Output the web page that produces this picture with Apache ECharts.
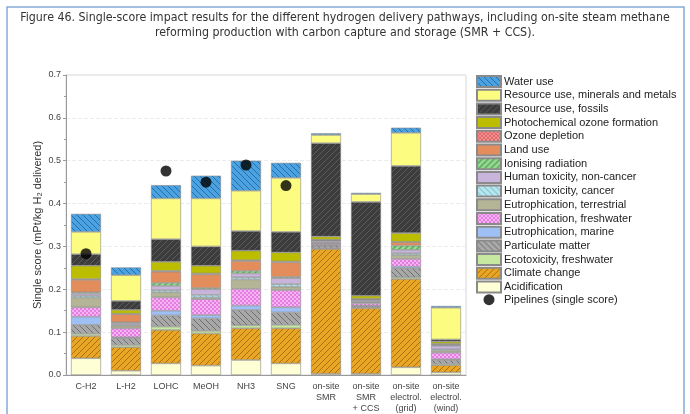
<!DOCTYPE html>
<html><head><meta charset="utf-8">
<script src="https://cdn.jsdelivr.net/npm/echarts@6/dist/echarts.min.js"></script>
<style>html,body{margin:0;padding:0;background:#fff}#c{width:690px;height:414px}</style>
</head><body><div id="c"></div>
<script>
const categories = ['C-H2','L-H2','LOHC','MeOH','NH3','SNG','on-site\nSMR','on-site\nSMR\n+ CCS','on-site\nelectrol.\n(grid)','on-site\nelectrol.\n(wind)'];
const yTicks = [0,0.1,0.2,0.3,0.4,0.5,0.6,0.7];
const acidification = [0.039,0.010,0.027,0.022,0.035,0.027,0.003,0.003,0.018,0.006];
const climateChange = [0.052,0.055,0.078,0.075,0.074,0.082,0.291,0.153,0.206,0.017];
const ecotoxicity   = [0.005,0.005,0.008,0.006,0.007,0.008,0.002,0.002,0.004,0.003];
const particulate   = [0.021,0.016,0.026,0.029,0.036,0.029,0.006,0.003,0.021,0.009];
const eutroMarine   = [0.019,0.002,0.011,0.008,0.010,0.012,0.001,0.001,0.004,0.002];
const eutroFresh    = [0.022,0.021,0.031,0.037,0.039,0.040,0.003,0.005,0.018,0.015];
const eutroTerr     = [0.023,0.006,0.012,0.004,0.022,0.008,0.002,0.003,0.009,0.005];
const htCancer      = [0.004,0.002,0.005,0.006,0.005,0.006,0.001,0.001,0.004,0.003];
const htNonCancer   = [0.005,0.004,0.010,0.013,0.009,0.014,0.004,0.004,0.008,0.008];
const ionising      = [0.003,0.002,0.007,0.003,0.006,0.003,0.001,0.001,0.010,0.002];
const landUse       = [0.029,0.019,0.026,0.032,0.023,0.034,0.001,0.001,0.008,0.002];
const ozone         = [0.002,0.001,0.002,0.002,0.002,0.002,0.001,0.001,0.001,0.001];
const photochem     = [0.031,0.009,0.021,0.018,0.022,0.021,0.007,0.007,0.020,0.005];
const fossils       = [0.027,0.021,0.053,0.045,0.046,0.048,0.218,0.219,0.157,0.005];
const minerals      = [0.052,0.060,0.095,0.112,0.094,0.126,0.019,0.018,0.077,0.074];
const waterUse      = [0.042,0.018,0.031,0.053,0.070,0.035,0.004,0.003,0.012,0.004];
const pipelines     = [0.283,'-',0.476,0.450,0.490,0.442,'-','-','-','-'];

const titleLine1 = 'Figure 46. Single-score impact results for the different hydrogen delivery pathways, including on-site steam methane';
const titleLine2 = 'reforming production with carbon capture and storage (SMR + CCS).';

function hatch(bg, fg, dir, size, lw){
  size = size||6; lw = lw||1;
  const c=document.createElement('canvas'); c.width=c.height=size;
  const g=c.getContext('2d'); g.fillStyle=bg; g.fillRect(0,0,size,size);
  g.strokeStyle=fg; g.lineWidth=lw; g.beginPath();
  if(dir==='/'){ g.moveTo(0,size); g.lineTo(size,0); g.moveTo(-2,2); g.lineTo(2,-2); g.moveTo(size-2,size+2); g.lineTo(size+2,size-2); }
  else { g.moveTo(0,0); g.lineTo(size,size); g.moveTo(size-2,-2); g.lineTo(size+2,2); g.moveTo(-2,size-2); g.lineTo(2,size+2); }
  g.stroke(); return {image:c, repeat:'repeat'};
}
function dots(bg, fg, size){
  size=size||4;
  const c=document.createElement('canvas'); c.width=c.height=size;
  const g=c.getContext('2d'); g.fillStyle=bg; g.fillRect(0,0,size,size);
  g.fillStyle=fg; g.fillRect(0,0,size/2,size/2); g.fillRect(size/2,size/2,size/2,size/2);
  return {image:c, repeat:'repeat'};
}
function titleFont(){
  const c=document.createElement('canvas').getContext('2d');
  const fams=['DejaVu Sans Condensed','Liberation Sans Narrow','Roboto Condensed','Liberation Sans'];
  let chosen='Liberation Sans';
  c.font='12px monospace'; const mono=c.measureText(titleLine1).width;
  for(const f of fams){ c.font='12px "'+f+'", monospace'; if(Math.abs(c.measureText(titleLine1).width-mono)>1){chosen=f;break;} }
  c.font='12px "'+chosen+'"'; const w=c.measureText(titleLine1).width;
  return {family: chosen, size: Math.min(13, 12*650/w)};
}
const tf = titleFont();

const layers = [
  ['Acidification', acidification, '#ffffd6'],
  ['Climate change', climateChange, hatch('#e9a524','#a8700c','/',6,1)],
  ['Ecotoxicity, freshwater', ecotoxicity, '#c6e8a0'],
  ['Particulate matter', particulate, hatch('#a8a8a8','#6e6e6e','\\',6,1)],
  ['Eutrophication, marine', eutroMarine, '#9ec0f4'],
  ['Eutrophication, freshwater', eutroFresh, dots('#f6b4f4','#e37ee0',4)],
  ['Eutrophication, terrestrial', eutroTerr, '#b4b496'],
  ['Human toxicity, cancer', htCancer, hatch('#b4e6ee','#74b4c4','\\',6,1)],
  ['Human toxicity, non-cancer', htNonCancer, '#c9b4dc'],
  ['Ionising radiation', ionising, hatch('#98d894','#5aa85a','/',6,1.5)],
  ['Land use', landUse, '#e38c5c'],
  ['Ozone depletion', ozone, dots('#f49494','#e06464',4)],
  ['Photochemical ozone formation', photochem, '#bdbd00'],
  ['Resource use, fossils', fossils, hatch('#3c3c3c','#5c5c5c','/',6,1)],
  ['Resource use, minerals and metals', minerals, '#fcfc80'],
  ['Water use', waterUse, hatch('#4aa2e0','#2a6ca8','\\',6,1)]
];

const series = layers.map(l => ({
  name: l[0], type: 'bar', stack: 'total', data: l[1], barWidth: 30,
  itemStyle: {color: l[2], borderColor: '#8a8a8a', borderWidth: 0.6},
  emphasis: {disabled: true}
}));
series.push({
  name: 'Pipelines (single score)', type: 'scatter', data: pipelines,
  symbol: 'circle', symbolSize: 11, itemStyle: {color: '#000'}, z: 10
});

const legendData = layers.map(l => l[0]).reverse().map(n => ({name: n, icon: 'rect'}));
legendData.push({name: 'Pipelines (single score)', icon: 'circle', itemStyle:{color:'#000'}});

const chart = echarts.init(document.getElementById('c'), null, {renderer: 'canvas'});
chart.setOption({
  animation: false,
  backgroundColor: '#fff',
  title: {
    text: titleLine1 + '\n' + titleLine2,
    left: 345, top: 10, textAlign: 'center', padding: 0,
    textStyle: {fontFamily: tf.family, fontSize: tf.size, fontWeight: 'normal', color: '#333', lineHeight: 15}
  },
  graphic: [{
    type: 'rect', shape: {x: 7, y: 7, width: 677, height: 420},
    style: {fill: null, stroke: '#86acd8', lineWidth: 1.5}, silent: true
  }],
  grid: {left: 66, right: 224, top: 75, bottom: 39, show: true, borderColor: '#d6d6d6', borderWidth: 1},
  legend: {
    orient: 'vertical', left: 476, top: 75, padding: 0, itemWidth: 24, itemHeight: 11, itemGap: 0.7,
    data: legendData, selectedMode: false,
    textStyle: {fontFamily: 'Liberation Sans', fontSize: 11, lineHeight: 11, color: '#222', padding: [0,0,0,-2]}
  },
  xAxis: {
    type: 'category', data: categories,
    axisLine: {lineStyle: {color: '#9a9a9a'}},
    axisTick: {show: false},
    axisLabel: {interval: 0, fontFamily: 'Liberation Sans', fontSize: 9, color: '#444', lineHeight: 11, margin: 6}
  },
  yAxis: {
    type: 'value', min: yTicks[0], max: yTicks[yTicks.length-1], interval: 0.1,
    name: 'Single score (mPt/kg H₂ delivered)', nameLocation: 'middle', nameGap: 23, nameMoveOverlap: false,
    nameTextStyle: {fontFamily: 'Liberation Sans', fontSize: 11, color: '#333'},
    axisLine: {show: true, lineStyle: {color: '#9a9a9a'}},
    axisTick: {show: true, length: 3, lineStyle: {color: '#9a9a9a'}},
    minorTick: {show: true, splitNumber: 2, length: 2, lineStyle: {color: '#9a9a9a'}},
    axisLabel: {formatter: v => v.toFixed(1), fontFamily: 'Liberation Sans', fontSize: 9, color: '#444', margin: 5},
    splitLine: {show: true, lineStyle: {color: '#ececec', type: 'dashed'}}
  },
  series: series
});
</script></body></html>
